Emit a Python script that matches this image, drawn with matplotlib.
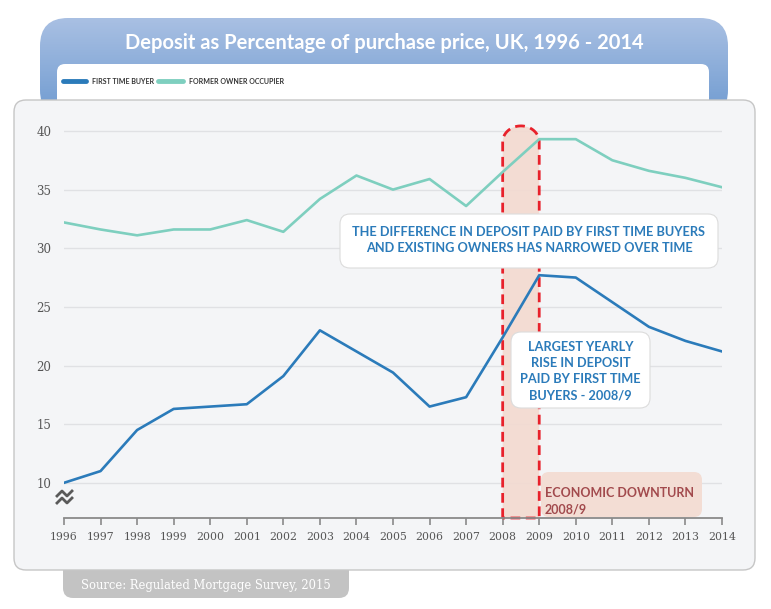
import numpy as np
import matplotlib
matplotlib.use('Agg')
import matplotlib.pyplot as plt
from matplotlib.patches import FancyBboxPatch, Polygon

# data
years = list(range(1996, 2015))
first_time_buyer = [10.0, 11.0, 14.5, 16.3, 16.5, 16.7, 19.1, 23.0, 21.2, 19.4,
                    16.5, 17.3, 22.4, 27.7, 27.5, 25.4, 23.3, 22.1, 21.2]
former_owner = [32.2, 31.6, 31.1, 31.6, 31.6, 32.4, 31.4, 34.2, 36.2, 35.0,
                35.9, 33.6, 36.5, 39.3, 39.3, 37.5, 36.6, 36.0, 35.2]
y_ticks = [10, 15, 20, 25, 30, 35, 40]
downturn = (2008, 2009)

title = "Deposit as Percentage of purchase price, UK, 1996 - 2014"
series_names = ["FIRST TIME BUYER", "FORMER OWNER OCCUPIER"]
note_gap = "THE DIFFERENCE IN DEPOSIT PAID BY FIRST TIME BUYERS\nAND EXISTING OWNERS HAS NARROWED OVER TIME"
note_rise = "LARGEST YEARLY\nRISE IN DEPOSIT\nPAID BY FIRST TIME\nBUYERS - 2008/9"
note_downturn = "ECONOMIC DOWNTURN\n2008/9"
source = "Source: Regulated Mortgage Survey, 2015"

BLUE = '#2b7bba'
GREEN = '#7ecfbf'
RED = '#e8212b'
SANS = ['Lato', 'DejaVu Sans']
SERIF = ['DejaVu Serif']

W, H = 771, 609
fig = plt.figure(figsize=(W / 100, H / 100), dpi=100)

# background layer in pixel coordinates
bg = fig.add_axes([0, 0, 1, 1], zorder=0)
bg.set_xlim(0, W)
bg.set_ylim(H, 0)
bg.axis('off')

# header with vertical gradient
header = FancyBboxPatch((40, 18), 688, 100, boxstyle='round,pad=0,rounding_size=28',
                        fc='none', ec='none')
bg.add_patch(header)
grad = np.linspace(0, 1, 256).reshape(-1, 1)
cmap = matplotlib.colors.LinearSegmentedColormap.from_list('hdr', ['#a9c0e3', '#6e9ad0'])
im = bg.imshow(grad, cmap=cmap, extent=[40, 728, 118, 18], aspect='auto', zorder=1)
im.set_clip_path(header)
bg.set_xlim(0, W)
bg.set_ylim(H, 0)
bg.text(384, 43, title, color='white', fontsize=14.5, fontweight='bold', family=SANS,
        ha='center', va='center', zorder=3)

# legend strip
bg.add_patch(FancyBboxPatch((57, 64), 652, 60, boxstyle='round,pad=0,rounding_size=8',
                            fc='white', ec='none', zorder=2))
bg.plot([63, 86], [81, 81], color=BLUE, lw=3.5, solid_capstyle='round', zorder=3)
bg.text(92, 81, series_names[0], fontsize=5, fontweight='bold', color='#333333',
        family=SANS, va='center', zorder=3)
bg.plot([158, 183], [81, 81], color=GREEN, lw=3.5, solid_capstyle='round', zorder=3)
bg.text(189, 81, series_names[1], fontsize=5, fontweight='bold', color='#333333',
        family=SANS, va='center', zorder=3)

# source tab and main panel
bg.add_patch(FancyBboxPatch((63, 550), 286, 48, boxstyle='round,pad=0,rounding_size=10',
                            fc='#c3c3c3', ec='none', zorder=2))
bg.text(206, 585, source, fontsize=8.3, color='white', family=SERIF,
        ha='center', va='center', zorder=3)
bg.add_patch(FancyBboxPatch((14, 100), 741, 470, boxstyle='round,pad=0,rounding_size=12',
                            fc='#f4f5f7', ec='#c6c6c6', lw=1, zorder=4))

# chart axes
ax = fig.add_axes([64 / W, 1 - 518 / H, (722 - 64) / W, (518 - 115) / H], zorder=1)
ax.patch.set_alpha(0)
ax.set_xlim(years[0], years[-1])
ax.set_ylim(7, 41.36)
ax.set_yticks(y_ticks)
ax.set_xticks(years)
ax.yaxis.grid(True, color='#e0e1e4', lw=1)
ax.set_axisbelow(True)
for s in ['top', 'left', 'right']:
    ax.spines[s].set_visible(False)
ax.spines['bottom'].set_color('#8a8a8a')
ax.spines['bottom'].set_linewidth(1.3)
ax.tick_params(axis='x', direction='out', length=5, width=1.2, color='#8a8a8a',
               labelsize=7.8, labelcolor='#555555', pad=5)
ax.tick_params(axis='y', length=0, labelsize=8.5, labelcolor='#555555', pad=9)
for lab in ax.get_xticklabels() + ax.get_yticklabels():
    lab.set_family(SERIF)

# downturn band with rounded dashed top
x0, x1 = downturn
yb = ax.get_ylim()[0]
y_top, arc_h = 39.06, 1.37
t = np.linspace(np.pi, 0, 40)
arc_x = (x0 + x1) / 2 + (x1 - x0) / 2 * np.cos(t)
arc_y = y_top + arc_h * np.sin(t)
px = np.concatenate([[x0], arc_x, [x1, x1, x0]])
py = np.concatenate([[yb], arc_y, [yb, yb, yb]])
ax.add_patch(Polygon(np.column_stack([px[:-1], py[:-1]]), closed=True,
                     fc='#f3dad0', ec='none', alpha=0.9, zorder=1))
ax.plot(px, py, color=RED, lw=2, linestyle=(0, (3.5, 2)), zorder=2, clip_on=False)

ax.plot(years, former_owner, color=GREEN, lw=1.9, zorder=3)
ax.plot(years, first_time_buyer, color=BLUE, lw=1.9, zorder=3)

# overlay annotations in pixel coordinates
top = fig.add_axes([0, 0, 1, 1], zorder=3)
top.patch.set_alpha(0)
top.set_xlim(0, W)
top.set_ylim(H, 0)
top.axis('off')

top.add_patch(FancyBboxPatch((340, 214), 378, 54, boxstyle='round,pad=0,rounding_size=10',
                             fc='white', ec='#dcdcdc', lw=0.8))
top.text(529, 240.5, note_gap, fontsize=9.2, fontweight='bold', color=BLUE, family=SANS,
         ha='center', va='center', multialignment='center', linespacing=1.4)

top.add_patch(FancyBboxPatch((511, 332), 139, 76, boxstyle='round,pad=0,rounding_size=10',
                             fc='white', ec='#dcdcdc', lw=0.8))
top.text(580.5, 371, note_rise, fontsize=9.2, fontweight='bold', color=BLUE, family=SANS,
         ha='center', va='center', multialignment='center', linespacing=1.4)

top.add_patch(FancyBboxPatch((541, 472), 161, 45, boxstyle='round,pad=0,rounding_size=8',
                             fc='#f3ddd4', ec='none'))
top.text(545, 501, note_downturn, fontsize=9, fontweight='bold', color='#a24a4d',
         family=SANS, ha='left', va='center', linespacing=1.45)

# axis break mark
for yz in (493, 500):
    top.plot([57, 62, 67, 72], [yz + 3, yz - 2, yz + 3, yz - 2], color='#5a5a5a', lw=2)

fig.savefig('out.png', dpi=100)
